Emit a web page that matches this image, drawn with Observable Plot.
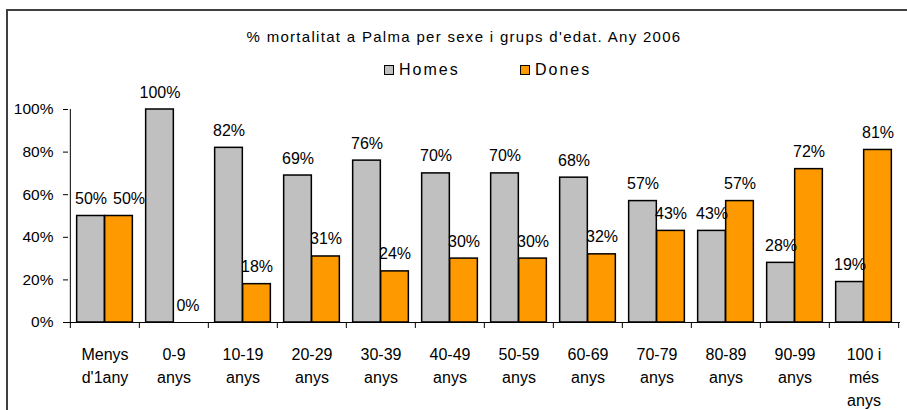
<!DOCTYPE html>
<html><head><meta charset="utf-8">
<script src="https://cdn.jsdelivr.net/npm/d3@7"></script>
<script src="https://cdn.jsdelivr.net/npm/@observablehq/plot@0.6"></script>
<style>
body{margin:0;background:#fff;font-family:"Liberation Sans",Arial,sans-serif;color:#000;overflow:hidden;}
#frame{position:absolute;left:6px;top:9px;width:1000px;height:500px;border-top:2px solid #404040;border-left:2px solid #404040;}
#title{position:absolute;left:0;width:928px;top:28px;text-align:center;font-size:15px;line-height:17px;letter-spacing:1.3px;white-space:nowrap;}
.sw{position:absolute;width:10px;height:10px;box-sizing:border-box;border:1.5px solid #000;top:65px;}
.lt{position:absolute;top:61px;font-size:16px;line-height:17px;letter-spacing:2px;white-space:nowrap;}
#chart{position:absolute;left:0;top:90px;}
g[aria-label="value-labels"] text{letter-spacing:0.4px;}
g[aria-label="category-labels"] text{letter-spacing:0.6px;}
</style>
</head><body>
<div id="frame"></div>
<div id="title"></div>
<div id="legend"></div>
<div id="chart"></div>
<script>
const title = "% mortalitat a Palma per sexe i grups d'edat. Any 2006";
const categories = ["Menys\nd'1any","0-9\nanys","10-19\nanys","20-29\nanys","30-39\nanys","40-49\nanys","50-59\nanys","60-69\nanys","70-79\nanys","80-89\nanys","90-99\nanys","100 i\nmés\nanys"];
const homes = [50,100,82,69,76,70,70,68,57,43,28,19];
const dones = [50,0,18,31,24,30,30,32,43,57,72,81];
const series = ["Homes","Dones"];
const colors = ["#c0c0c0","#ff9900"];
const yTicks = [0,20,40,60,80,100];

document.getElementById("title").textContent = title;
const legendPos = [{sw:384,tx:399},{sw:520,tx:535}];
const legend = document.getElementById("legend");
series.forEach((s,i)=>{
  const sq=document.createElement("div"); sq.className="sw"; sq.style.left=legendPos[i].sw+"px"; sq.style.background=colors[i]; legend.appendChild(sq);
  const t=document.createElement("div"); t.className="lt"; t.style.left=legendPos[i].tx+"px"; t.textContent=s; legend.appendChild(t);
});

const W=907,H=320,mL=68,mR=7,mT=19,mB=88;
const step=(W-mL-mR)/categories.length;
const half=step/2, outer=step*0.096;
const barC=(half-outer)/2;
const rowsH = categories.map((c,i)=>({cat:c, v:homes[i]}));
const rowsD = categories.map((c,i)=>({cat:c, v:dones[i], clash:Math.abs(homes[i]-dones[i])<5}));
const last = categories[categories.length-1];

const plot = Plot.plot({
  width:W,height:H,marginLeft:mL,marginRight:mR,marginTop:mT,marginBottom:mB,
  style:{fontFamily:"'Liberation Sans', Arial, sans-serif",fontSize:"16px",color:"#000",background:"transparent",overflow:"visible"},
  x:{type:"band",domain:categories,padding:0,axis:null},
  y:{domain:[0,100]},
  marks:[
    Plot.barY(rowsH.filter(d=>d.v>0),{x:"cat",y:"v",fill:colors[0],stroke:"#000",strokeWidth:1.5,insetLeft:outer,insetRight:half}),
    Plot.barY(rowsD.filter(d=>d.v>0),{x:"cat",y:"v",fill:colors[1],stroke:"#000",strokeWidth:1.5,insetLeft:half,insetRight:outer}),
    Plot.ruleY([0],{stroke:"#000",strokeWidth:1}),
    Plot.ruleX([categories[0]],{x:d=>d,y1:0,y2:100,dx:-half,stroke:"#000",strokeWidth:1}),
    Plot.ruleX(categories,{x:d=>d,y1:0,y2:0,dx:-half,insetTop:0,insetBottom:-6,stroke:"#000",strokeWidth:1}),
    Plot.ruleX([last],{x:d=>d,y1:0,y2:0,dx:half,insetTop:0,insetBottom:-6,stroke:"#000",strokeWidth:1}),
    Plot.axisY({ticks:yTicks,tickFormat:d=>d+"%",tickSize:5,tickPadding:10,fontSize:15.5,label:null,stroke:"#000"}),
    Plot.text(categories,{x:d=>d,y:0,text:d=>d,lineAnchor:"top",dy:21,lineHeight:1.44,fontSize:16,fill:"#000",ariaLabel:"category-labels"}),
    Plot.text(rowsH,{x:"cat",y:"v",text:d=>d.v+"%",dx:-half+outer+barC,dy:-12,lineAnchor:"bottom",fontSize:16,fill:"#000",ariaLabel:"value-labels"}),
    Plot.text(rowsD.filter(d=>!d.clash),{x:"cat",y:"v",text:d=>d.v+"%",dx:barC,dy:-12,lineAnchor:"bottom",fontSize:16,fill:"#000",ariaLabel:"value-labels"}),
    Plot.text(rowsD.filter(d=>d.clash),{x:"cat",y:"v",text:d=>d.v+"%",dx:barC+10,dy:-12,lineAnchor:"bottom",fontSize:16,fill:"#000",ariaLabel:"value-labels"})
  ]
});
document.getElementById("chart").appendChild(plot);
</script>
</body></html>
